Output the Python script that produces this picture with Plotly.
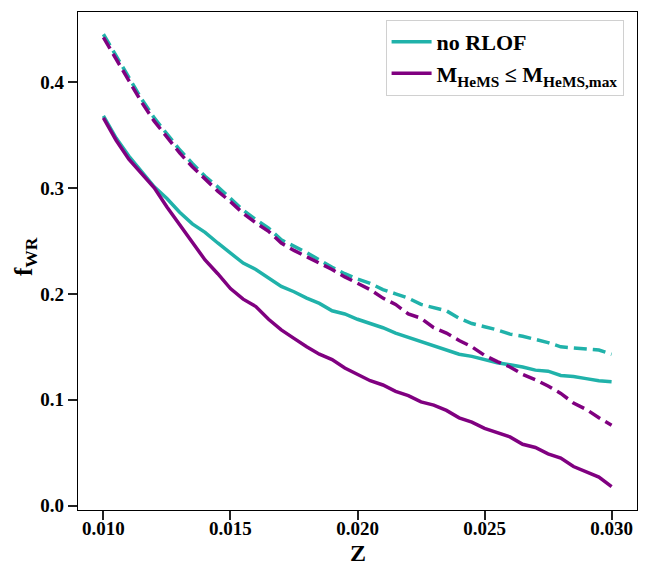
import plotly.graph_objects as go

# metallicity grid
Z = [0.0100, 0.0105, 0.0110, 0.0115, 0.0120, 0.0125, 0.0130, 0.0135, 0.0140, 0.0145,
     0.0150, 0.0155, 0.0160, 0.0165, 0.0170, 0.0175, 0.0180, 0.0185, 0.0190, 0.0195,
     0.0200, 0.0205, 0.0210, 0.0215, 0.0220, 0.0225, 0.0230, 0.0235, 0.0240, 0.0245,
     0.0250, 0.0255, 0.0260, 0.0265, 0.0270, 0.0275, 0.0280, 0.0285, 0.0290, 0.0295,
     0.0300]

# no RLOF (solid / dashed)
no_rlof_solid = [0.368, 0.347, 0.330, 0.315, 0.301, 0.290, 0.277, 0.266, 0.258, 0.248,
                 0.238, 0.229, 0.223, 0.215, 0.207, 0.202, 0.196, 0.191, 0.184, 0.181,
                 0.176, 0.172, 0.168, 0.163, 0.159, 0.155, 0.151, 0.147, 0.143, 0.141,
                 0.138, 0.135, 0.133, 0.131, 0.128, 0.127, 0.123, 0.122, 0.120, 0.118,
                 0.117]
no_rlof_dashed = [0.445, 0.425, 0.404, 0.384, 0.366, 0.351, 0.336, 0.323, 0.311, 0.301,
                  0.290, 0.279, 0.270, 0.262, 0.251, 0.245, 0.239, 0.232, 0.225, 0.219,
                  0.214, 0.210, 0.204, 0.200, 0.196, 0.190, 0.187, 0.184, 0.177, 0.172,
                  0.169, 0.166, 0.162, 0.160, 0.157, 0.154, 0.150, 0.149, 0.148, 0.147,
                  0.143]

# M_HeMS <= M_HeMS,max (solid / dashed)
hems_solid = [0.366, 0.345, 0.327, 0.313, 0.300, 0.282, 0.265, 0.248, 0.232, 0.219,
              0.205, 0.195, 0.188, 0.176, 0.166, 0.158, 0.150, 0.143, 0.138, 0.130,
              0.124, 0.118, 0.114, 0.108, 0.104, 0.098, 0.095, 0.090, 0.083, 0.079,
              0.073, 0.069, 0.065, 0.058, 0.055, 0.049, 0.045, 0.037, 0.032, 0.027,
              0.018]
hems_dashed = [0.442, 0.422, 0.401, 0.381, 0.363, 0.348, 0.333, 0.320, 0.308, 0.297,
               0.287, 0.276, 0.267, 0.259, 0.248, 0.241, 0.235, 0.229, 0.223, 0.216,
               0.210, 0.204, 0.196, 0.190, 0.181, 0.177, 0.168, 0.163, 0.156, 0.150,
               0.142, 0.136, 0.131, 0.124, 0.119, 0.113, 0.106, 0.097, 0.091, 0.083,
               0.076]

CYAN = '#20b2aa'
PURPLE = '#800080'
FONT = 'Liberation Serif'
DASH = '13px,6px'
LW = 3.5

fig = go.Figure()

fig.add_trace(go.Scatter(x=Z, y=no_rlof_solid, mode='lines', name='<b>no RLOF</b>',
                         line=dict(color=CYAN, width=LW)))
fig.add_trace(go.Scatter(x=Z, y=hems_solid, mode='lines',
                         name='<b>M<sub>HeMS</sub> ≤ M<sub>HeMS,max</sub></b>',
                         line=dict(color=PURPLE, width=LW)))
fig.add_trace(go.Scatter(x=Z, y=no_rlof_dashed, mode='lines', showlegend=False,
                         line=dict(color=CYAN, width=LW, dash=DASH)))
fig.add_trace(go.Scatter(x=Z, y=hems_dashed, mode='lines', showlegend=False,
                         line=dict(color=PURPLE, width=LW, dash=DASH)))

axis_style = dict(
    showgrid=False, zeroline=False, showline=True, mirror=True,
    linecolor='black', linewidth=1.3, automargin=False,
    ticks='outside', ticklen=9, tickwidth=2, tickcolor='#222',
    tickfont=dict(family=FONT, size=19, color='black', weight='bold'),
)

# the page body adds an 8px margin, so the figure is 8px smaller and shifted
fig.update_layout(
    width=640, height=568,
    paper_bgcolor='white', plot_bgcolor='white',
    margin=dict(l=70, r=11, t=4, b=66),
    font=dict(family=FONT, color='black'),
    xaxis=dict(range=[0.009, 0.031], tickvals=[0.010, 0.015, 0.020, 0.025, 0.030],
               tickformat='.3f', ticklabelstandoff=-8,
               **axis_style),
    yaxis=dict(range=[-0.004, 0.466], tickvals=[0.0, 0.1, 0.2, 0.3, 0.4],
               tickformat='.1f',
               **axis_style),
    legend=dict(x=0.976, y=0.984, xanchor='right', yanchor='top',
                bgcolor='white', bordercolor='#d0d0d0', borderwidth=1,
                font=dict(family=FONT, size=22, color='black'),
                itemwidth=40),
    showlegend=True,
)

# axis titles placed by hand, closer to the tick labels than plotly allows
fig.add_annotation(text='<b>Z</b>', x=0.5, y=0, xref='paper', yref='paper',
                   yanchor='middle', yshift=-43, showarrow=False,
                   font=dict(family=FONT, size=24, color='black'))
fig.add_annotation(text='<b>f<sub>WR</sub></b>', x=0, y=0.5, xref='paper', yref='paper',
                   xanchor='center', yanchor='middle', xshift=-53, yshift=4,
                   textangle=-90, showarrow=False,
                   font=dict(family=FONT, size=25, color='black'))

fig.write_html('out.html')
